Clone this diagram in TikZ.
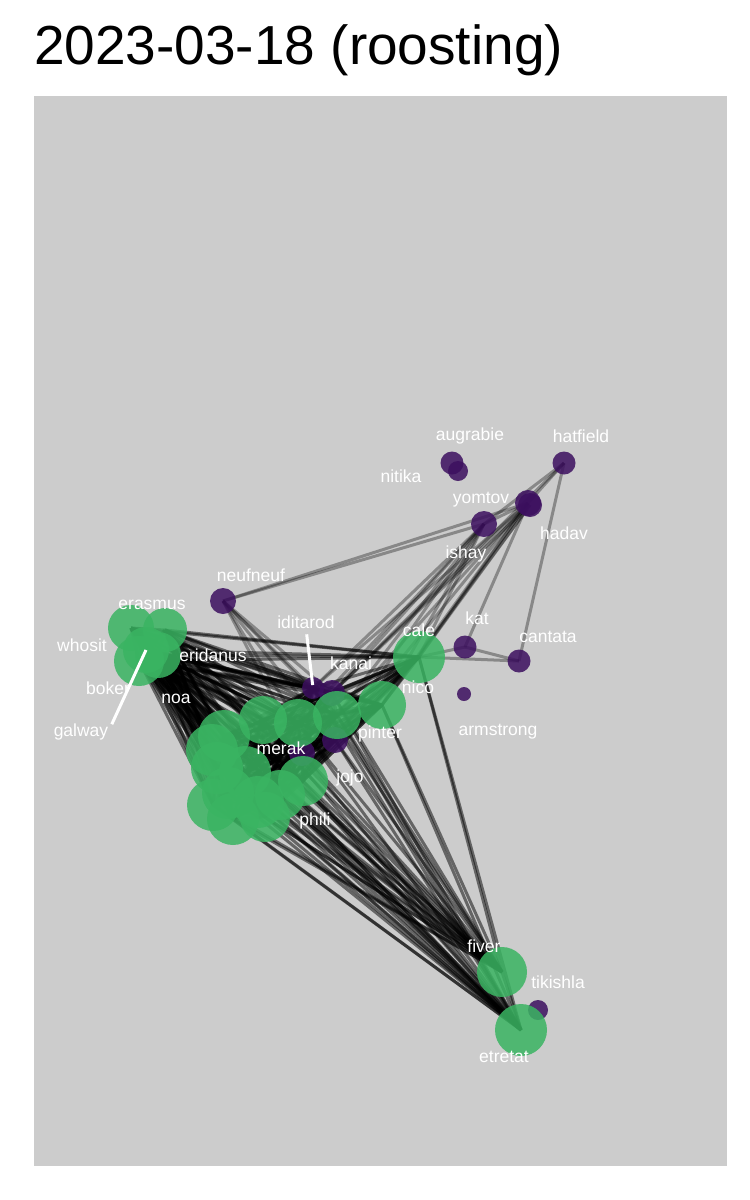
\documentclass[tikz,border=0pt]{standalone}
\usepackage{fontspec}
\setmainfont{Liberation Sans}

\pgfdeclarelayer{panel}
\pgfdeclarelayer{edges}
\pgfdeclarelayer{labels}
\pgfsetlayers{panel,edges,main,labels}

\definecolor{panelgrey}{HTML}{CCCCCC}
\definecolor{roostgreen}{RGB}{58,180,98}
\definecolor{roostpurple}{RGB}{60,15,95}

\begin{document}
\begin{tikzpicture}[x=1pt, y=-1pt,
    bird/.style={circle, inner sep=0pt, fill opacity=0.85, minimum size=#1},
    grnbird/.style={bird=#1, fill=roostgreen},
    prpbird/.style={bird=#1, fill=roostpurple},
    edge/.style={draw=black, draw opacity=0.33, line width=3pt},
    roostedge/.style={edge, draw opacity=0.5},
    lbl/.style={text=white, anchor=base, inner sep=0pt, font=\fontsize{17.5}{20}\selectfont},
    repel/.style={draw=white, line width=3pt}]

    \begin{pgfonlayer}{panel}
        \fill[white] (0,0) rectangle (750,1200);
        \fill[panelgrey] (34,96) rectangle (727,1166);
    \end{pgfonlayer}
    \useasboundingbox (0,0) rectangle (750,1200);

    \node[anchor=base west, inner sep=0pt, font=\fontsize{55}{60}\selectfont] (title) at (34,64) {2023-03-18 (roosting)};

    % non-roosting birds
    \node[prpbird=23pt] (augrabie) at (452,463) {};
    \node[prpbird=20pt] (nitika) at (458,471) {};
    \node[prpbird=23pt] (hatfield) at (564,463) {};
    \node[prpbird=24pt] (hadav) at (530,505) {};
    \node[prpbird=26pt] (yomtov) at (528,503) {};
    \node[prpbird=26pt] (ishay) at (484,524) {};
    \node[prpbird=23pt] (kat) at (465,647) {};
    \node[prpbird=23pt] (cantata) at (519,661) {};
    \node[prpbird=14pt] (armstrong) at (464,694) {};
    \node[prpbird=26pt] (neufneuf) at (223,601) {};
    \node[prpbird=22pt] (iditarod) at (313,688) {};
    \node[prpbird=26pt] (kanai) at (332,693) {};
    \node[prpbird=26pt] (pu1) at (335,740) {};
    \node[prpbird=26pt] (merak) at (302,753) {};
    \node[prpbird=20pt] (tikishla) at (538,1010) {};

    % roosting birds
    \node[grnbird=46pt] (whosit) at (131,628) {};
    \node[grnbird=44pt] (erasmus) at (165,630) {};
    \node[grnbird=46pt] (eridanus) at (158,655) {};
    \node[grnbird=50pt] (boker) at (139,661) {};
    \node[grnbird=46pt] (galway) at (146,650) {};
    \node[grnbird=52pt] (noa) at (224,736) {};
    \node[grnbird=52pt] (gr1) at (212,750) {};
    \node[grnbird=52pt] (gr2) at (217,768) {};
    \node[grnbird=52pt] (gr3) at (245,772) {};
    \node[grnbird=52pt] (gr4) at (228,793) {};
    \node[grnbird=52pt] (gr5) at (213,805) {};
    \node[grnbird=52pt] (gr6) at (233,819) {};
    \node[grnbird=52pt] (gr7) at (258,802) {};
    \node[grnbird=50pt] (phili) at (265,817) {};
    \node[grnbird=50pt] (gr8) at (280,795) {};
    \node[grnbird=50pt] (jojo) at (303,781) {};
    \node[grnbird=48pt] (gr9) at (263,720) {};
    \node[grnbird=48pt] (gr10) at (298,723) {};
    \node[grnbird=48pt] (pinter) at (337,715) {};
    \node[grnbird=48pt] (nico) at (382,705) {};
    \node[grnbird=52pt] (cale) at (419,657) {};
    \node[grnbird=50pt] (fiver) at (502,972) {};
    \node[grnbird=52pt] (etretat) at (521,1030) {};

    \def\mob{whosit,erasmus,eridanus,boker,galway,noa,gr1,gr2,gr3,gr4,gr5,gr6,gr7,phili,gr8,jojo,gr9,gr10,pinter,nico,cale,fiver,etretat,iditarod,kanai,pu1,merak}

    \begin{pgfonlayer}{edges}
        \foreach \a [count=\i] in \mob {
            \foreach \b [count=\j] in \mob {
                \ifnum\j>\i \draw[roostedge] (\a.center) -- (\b.center); \fi
            }
        }
        \foreach \a/\b in {neufneuf/yomtov, neufneuf/ishay, neufneuf/iditarod, neufneuf/kanai,
                neufneuf/gr10, neufneuf/pinter, neufneuf/merak, neufneuf/pu1,
                ishay/cale, ishay/nico, ishay/pinter, ishay/kanai, ishay/iditarod, ishay/gr10,
                ishay/pu1, ishay/hatfield, ishay/yomtov,
                yomtov/cale, yomtov/nico, yomtov/pinter, yomtov/kanai, yomtov/iditarod,
                yomtov/pu1, yomtov/kat, yomtov/hatfield,
                hadav/cale, hadav/kanai, hadav/nico,
                hatfield/cantata, hatfield/kanai,
                kat/cale, kat/cantata, cantata/cale}
            \draw[edge] (\a.center) -- (\b.center);
    \end{pgfonlayer}

    \begin{pgfonlayer}{labels}
        \node[lbl] (augrabie-l) at (470,440) {augrabie};
        \node[lbl] (hatfield-l) at (581,442) {hatfield};
        \node[lbl] (nitika-l) at (401,482) {nitika};
        \node[lbl] (yomtov-l) at (481,503) {yomtov};
        \node[lbl] (hadav-l) at (564,539) {hadav};
        \node[lbl] (ishay-l) at (466,558) {ishay};
        \node[lbl] (neufneuf-l) at (251,581) {neufneuf};
        \node[lbl] (erasmus-l) at (152,609) {erasmus};
        \node[lbl] (kat-l) at (477,624) {kat};
        \node[lbl] (iditarod-l) at (306,628) {iditarod};
        \node[lbl] (cale-l) at (419,636) {cale};
        \node[lbl] (cantata-l) at (548,642) {cantata};
        \node[lbl] (whosit-l) at (82,651) {whosit};
        \node[lbl] (eridanus-l) at (213,661) {eridanus};
        \node[lbl] (kanai-l) at (351,669) {kanai};
        \node[lbl] (nico-l) at (418,693) {nico};
        \node[lbl] (boker-l) at (108,694) {boker};
        \node[lbl] (noa-l) at (176,703) {noa};
        \node[lbl] (galway-l) at (81,736) {galway};
        \node[lbl] (armstrong-l) at (498,735) {armstrong};
        \node[lbl] (pinter-l) at (380,738) {pinter};
        \node[lbl] (merak-l) at (281,754) {merak};
        \node[lbl] (jojo-l) at (350,782) {jojo};
        \node[lbl] (phili-l) at (315,825) {phili};
        \node[lbl] (fiver-l) at (484,952) {fiver};
        \node[lbl] (tikishla-l) at (558,988) {tikishla};
        \node[lbl] (etretat-l) at (504,1062) {etretat};

        \draw[repel, shorten <=6pt, shorten >=3pt] (iditarod-l.south) -- (iditarod.center);
        \draw[repel, shorten <=8pt] (galway-l.east) -- (galway.center);
    \end{pgfonlayer}
\end{tikzpicture}
\end{document}
